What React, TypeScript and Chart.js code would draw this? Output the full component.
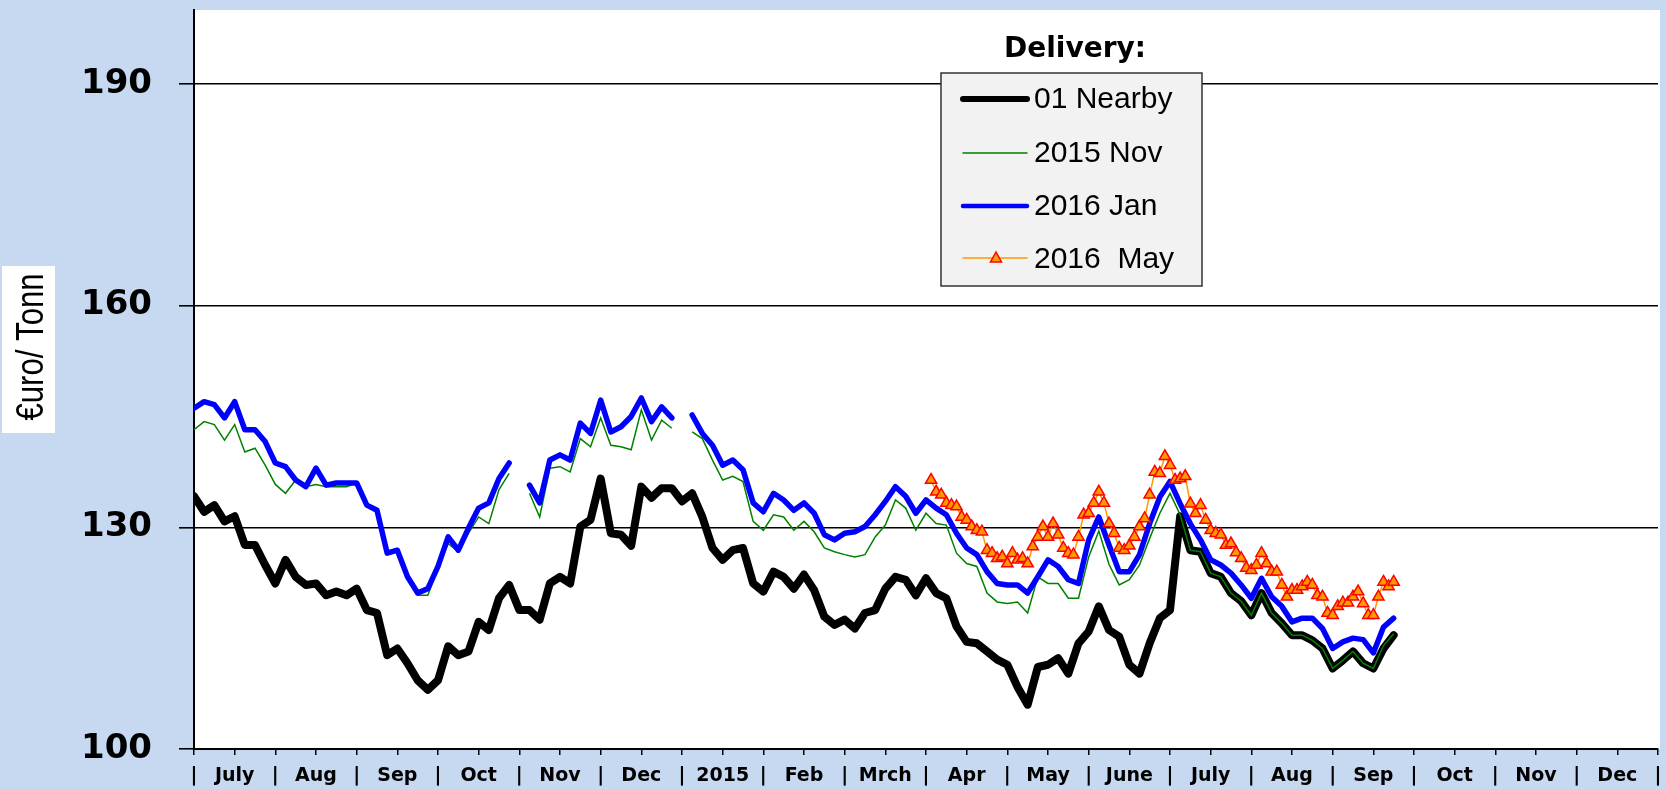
import React, { useEffect, useRef } from "react";
import { Chart, registerables } from "chart.js";

Chart.register(...registerables);

// ---------- data ----------
const MONTHS = ["July", "Aug", "Sep", "Oct", "Nov", "Dec", "2015", "Feb", "Mrch", "Apr", "May", "June", "July", "Aug", "Sep", "Oct", "Nov", "Dec"];
const X_LABELS: string[] = ["|"];
MONTHS.forEach((m) => { X_LABELS.push(m); X_LABELS.push("|"); });
const Y_TICKS = [100, 130, 160, 190];

const DAILY_PER_HALF_MONTH = 4; // samples per half-month for the daily series
const MAY_PER_HALF_MONTH = 8;
const MAY_START = 145; // first sample index of 2016 May series (in its own resolution)

const NEARBY = [
  134.2, 132.1, 133.0, 130.8, 131.5, 127.6, 127.6, 124.9, 122.4, 125.6,
  123.3, 122.2, 122.4, 120.8, 121.3, 120.8, 121.7, 118.8, 118.4, 112.7,
  113.6, 111.6, 109.3, 108.0, 109.3, 113.9, 112.7, 113.2, 117.2, 116.1,
  120.4, 122.2, 118.8, 118.8, 117.5, 122.4, 123.3, 122.4, 130.1, 131.0,
  136.6, 129.2, 129.0, 127.5, 135.5, 134.0, 135.3, 135.3, 133.5, 134.6,
  131.4, 127.2, 125.6, 126.9, 127.2, 122.4, 121.3, 124.0, 123.3, 121.7,
  123.6, 121.5, 117.9, 116.8, 117.5, 116.3, 118.4, 118.8, 121.7, 123.3,
  122.9, 120.8, 123.1, 121.1, 120.4, 116.6, 114.5, 114.3, 113.2, 112.1,
  111.4, 108.4, 106.0, 111.1, 111.4, 112.3, 110.2, 114.3, 115.9, 119.3,
  116.1, 115.2, 111.4, 110.2, 114.3, 117.7, 118.8, 131.5, 126.9, 126.7,
  123.8, 123.3, 121.1, 120.0, 118.1, 121.1, 118.4, 117.0, 115.4, 115.4,
  114.7, 113.6, 110.9, 112.0, 113.2, 111.6, 110.9, 113.6, 115.4,
];

const NOV_2015 = [
  143.2, 144.3, 143.9, 141.8, 143.9, 140.2, 140.7, 138.4, 135.8, 134.6,
  136.4, 135.5, 135.8, 135.5, 135.5, 135.5, 136.0, 132.8, 132.1, 126.3,
  126.7, 123.1, 120.8, 120.8, 124.5, 127.8, 126.7, 129.2, 131.4, 130.5,
  135.1, 137.3, null, 134.6, 131.4, 138.0, 138.2, 137.5, 142.0, 140.9,
  144.8, 141.1, 140.9, 140.5, 145.9, 141.8, 144.5, 143.4, null, 142.9,
  142.0, 139.1, 136.4, 136.9, 136.2, 130.8, 129.6, 131.7, 131.4, 129.6,
  130.8, 129.4, 127.2, 126.7, 126.3, 126.0, 126.3, 128.7, 130.3, 133.7,
  132.6, 129.6, 131.9, 130.5, 130.3, 126.5, 125.1, 124.7, 121.1, 119.9,
  119.7, 119.9, 118.4, 123.3, 122.4, 122.4, 120.4, 120.4, 126.0, 129.5,
  125.0, 122.2, 122.9, 124.9, 128.5, 131.9, 134.6, 131.7, 126.9, 126.7,
  123.8, 123.3, 121.1, 120.0, 118.1, 121.1, 118.4, 117.0, 115.4, 115.4,
  114.7, 113.6, 110.9, 112.0, 113.2, 111.6, 110.9, 114.0, 115.6,
];

const JAN_2016 = [
  146.1, 147.0, 146.6, 144.8, 147.0, 143.2, 143.2, 141.6, 138.7, 138.2,
  136.4, 135.5, 138.0, 135.7, 136.0, 136.0, 136.0, 133.0, 132.3, 126.5,
  126.9, 123.3, 121.1, 121.7, 124.7, 128.7, 126.9, 129.9, 132.6, 133.3,
  136.6, 138.7, null, 135.7, 133.3, 139.1, 139.8, 139.1, 144.1, 142.7,
  147.2, 142.9, 143.6, 145.0, 147.5, 144.3, 146.3, 144.8, null, 145.2,
  142.7, 141.1, 138.4, 139.1, 137.8, 133.3, 132.1, 134.6, 133.7, 132.3,
  133.3, 131.9, 129.0, 128.3, 129.2, 129.4, 130.1, 131.7, 133.5, 135.5,
  134.2, 131.9, 133.7, 132.6, 131.7, 129.2, 127.2, 126.3, 124.0, 122.4,
  122.2, 122.2, 121.1, 123.3, 125.6, 124.7, 122.9, 122.4, 128.3, 131.4,
  127.6, 124.0, 124.0, 126.3, 130.5, 134.1, 136.2, 133.2, 130.5, 128.3,
  125.6, 124.9, 123.8, 122.2, 120.4, 123.1, 120.6, 119.3, 117.2, 117.7,
  117.7, 116.3, 113.6, 114.5, 115.0, 114.8, 113.0, 116.5, 117.7,
];

const MAY_2016 = [
  136.4, 134.8, 134.4, 133.3, 133.0, 132.8, 131.4, 131.0, 130.1, 129.6,
  129.4, 126.9, 126.5, 125.8, 126.0, 125.1, 126.5, 125.6, 125.8, 125.1,
  127.4, 128.7, 130.1, 128.7, 130.5, 129.0, 127.2, 126.5, 126.3, 128.7,
  131.7, 131.9, 133.3, 134.8, 133.3, 130.5, 129.2, 127.2, 126.9, 127.5,
  128.7, 130.1, 131.2, 134.4, 137.5, 137.3, 139.6, 138.4, 136.4, 136.6,
  136.9, 133.2, 131.9, 133.0, 131.0, 129.6, 129.2, 129.0, 127.6, 127.8,
  126.6, 125.8, 124.5, 124.2, 124.9, 126.5, 125.1, 124.0, 124.0, 122.2,
  120.6, 121.5, 121.5, 122.0, 122.6, 122.2, 120.8, 120.6, 118.4, 118.1,
  119.3, 119.8, 119.8, 120.6, 121.3, 119.7, 118.1, 118.1, 120.6, 122.6,
  122.0, 122.6,
];

const SERIES_NAMES = ["01 Nearby", "2015 Nov", "2016 Jan", "2016  May"];

// ---------- style ----------
const BG = "#C6D9F1";
const C_NEARBY = "#000000";
const C_NOV = "#008000";
const C_JAN = "#0000FF";
const C_MAY_LINE = "#FF9900";
const C_MAY_FILL = "#FF9900";
const C_MAY_EDGE = "#FF0000";

const toPoints = (vals: (number | null)[], perHalf: number, start = 0) =>
  vals.map((v, i) => ({ x: (start + i) / perHalf, y: v }));

const bgPlugin = {
  id: "bgPlugin",
  beforeDraw(chart: any) {
    const { ctx, chartArea } = chart;
    ctx.save();
    ctx.fillStyle = BG;
    ctx.fillRect(0, 0, chart.width, chart.height);
    ctx.fillStyle = "#FFFFFF";
    ctx.fillRect(chartArea.left, chartArea.top, chartArea.right - chartArea.left + 2, chartArea.bottom - chartArea.top);
    ctx.restore();
  },
};

const decorPlugin = {
  id: "decorPlugin",
  afterDraw(chart: any) {
    const ctx = chart.ctx as CanvasRenderingContext2D;
    ctx.save();
    // y-axis title box
    ctx.fillStyle = "#FFFFFF";
    ctx.fillRect(2, 266, 53, 167);
    ctx.translate(43, 347);
    ctx.rotate(-Math.PI / 2);
    ctx.scale(0.82, 1);
    ctx.fillStyle = "#000";
    ctx.font = "38px 'Liberation Sans', Arial, sans-serif";
    ctx.textAlign = "center";
    ctx.textBaseline = "alphabetic";
    ctx.fillText("\u20ACuro/ Tonn", 0, 0);
    ctx.restore();

    // legend
    ctx.save();
    ctx.fillStyle = "#000";
    ctx.font = "bold 28px 'DejaVu Sans', sans-serif";
    ctx.textAlign = "center";
    ctx.textBaseline = "alphabetic";
    ctx.fillText("Delivery:", 1075, 57);

    ctx.fillStyle = "#F2F2F2";
    ctx.fillRect(941, 73, 261, 213);
    ctx.strokeStyle = "#333";
    ctx.lineWidth = 1.5;
    ctx.strokeRect(941, 73, 261, 213);

    const rowsY = [99, 153, 206, 258];
    const widths = [6, 1.5, 4.5, 1.5];
    const colors = [C_NEARBY, C_NOV, C_JAN, C_MAY_LINE];
    ctx.lineCap = "round";
    for (let i = 0; i < 4; i++) {
      ctx.strokeStyle = colors[i];
      ctx.lineWidth = widths[i];
      ctx.beginPath();
      ctx.moveTo(963, rowsY[i]);
      ctx.lineTo(1027, rowsY[i]);
      ctx.stroke();
    }
    // triangle marker for May
    const tx = 996, ty = rowsY[3];
    ctx.beginPath();
    ctx.moveTo(tx, ty - 6);
    ctx.lineTo(tx + 5.5, ty + 4);
    ctx.lineTo(tx - 5.5, ty + 4);
    ctx.closePath();
    ctx.fillStyle = C_MAY_FILL;
    ctx.fill();
    ctx.strokeStyle = C_MAY_EDGE;
    ctx.lineWidth = 1.5;
    ctx.lineCap = "butt";
    ctx.stroke();

    ctx.fillStyle = "#000";
    ctx.font = "30px 'Liberation Sans', Arial, sans-serif";
    ctx.textAlign = "left";
    const base = [108, 162, 215, 268];
    SERIES_NAMES.forEach((n, i) => ctx.fillText(n, 1034, base[i]));
    ctx.restore();
  },
};

export default function App() {
  const ref = useRef<HTMLCanvasElement | null>(null);

  useEffect(() => {
    document.body.style.margin = "0";
    document.body.style.overflow = "hidden";
    const canvas = ref.current!;
    const chart = new Chart(canvas, {
      type: "line",
      data: {
        datasets: [
          {
            label: SERIES_NAMES[0],
            data: toPoints(NEARBY, DAILY_PER_HALF_MONTH),
            borderColor: C_NEARBY,
            borderWidth: 8,
            pointRadius: 0,
            borderJoinStyle: "round",
            borderCapStyle: "round",
            order: 3,
          },
          {
            label: SERIES_NAMES[1],
            data: toPoints(NOV_2015, DAILY_PER_HALF_MONTH),
            borderColor: C_NOV,
            borderWidth: 1.5,
            pointRadius: 0,
            order: 2,
          },
          {
            label: SERIES_NAMES[2],
            data: toPoints(JAN_2016, DAILY_PER_HALF_MONTH),
            borderColor: C_JAN,
            borderWidth: 5.5,
            pointRadius: 0,
            borderJoinStyle: "round",
            borderCapStyle: "round",
            order: 1,
          },
          {
            label: SERIES_NAMES[3],
            data: toPoints(MAY_2016, MAY_PER_HALF_MONTH, MAY_START),
            borderColor: C_MAY_LINE,
            borderWidth: 1.5,
            pointStyle: "triangle",
            pointRadius: 6.5,
            pointBackgroundColor: C_MAY_FILL,
            pointBorderColor: C_MAY_EDGE,
            pointBorderWidth: 1.5,
            order: 0,
          },
        ] as any,
      },
      options: {
        animation: false,
        responsive: false,
        maintainAspectRatio: false,
        devicePixelRatio: 1,
        events: [],
        layout: { padding: { top: 10, right: 6, left: 0, bottom: 0 } },
        plugins: { legend: { display: false }, tooltip: { enabled: false }, title: { display: false } },
        scales: {
          x: {
            type: "linear",
            min: 0,
            max: X_LABELS.length - 1,
            afterBuildTicks: (s: any) => {
              s.ticks = X_LABELS.map((_, i) => ({ value: i }));
            },
            afterFit: (s: any) => {
              s.height = 40;
              s.paddingLeft = 0;
              s.paddingRight = 0;
              s.paddingTop = 0;
              s.paddingBottom = 0;
            },
            ticks: {
              autoSkip: false,
              maxRotation: 0,
              minRotation: 0,
              padding: 10,
              color: "#000",
              font: { family: "'DejaVu Sans', sans-serif", weight: "bold", size: 19 },
              callback: (v: any) => X_LABELS[Math.round(Number(v))] ?? "",
            },
            grid: { drawOnChartArea: false, drawTicks: true, tickLength: 6, color: "#000", lineWidth: 1.5 },
            border: { display: true, color: "#000", width: 2 },
          },
          y: {
            type: "linear",
            min: 100,
            max: 200,
            afterBuildTicks: (s: any) => {
              s.ticks = Y_TICKS.map((v) => ({ value: v }));
            },
            afterFit: (s: any) => {
              s.width = 194;
              s.paddingLeft = 0;
              s.paddingRight = 0;
              s.paddingTop = 0;
              s.paddingBottom = 0;
            },
            ticks: {
              padding: 27,
              color: "#000",
              font: { family: "'DejaVu Sans', sans-serif", weight: "bold", size: 34 },
            },
            grid: { color: "#000", lineWidth: 1.6, tickLength: 15 },
            border: { display: true, color: "#000", width: 2 },
          },
        },
      } as any,
      plugins: [bgPlugin, decorPlugin],
    });
    return () => chart.destroy();
  }, []);

  return (
    <div style={{ width: 1666, height: 789, position: "relative", overflow: "hidden" }}>
      <canvas ref={ref} width={1666} height={789} style={{ display: "block", width: 1666, height: 789 }} />
    </div>
  );
}
